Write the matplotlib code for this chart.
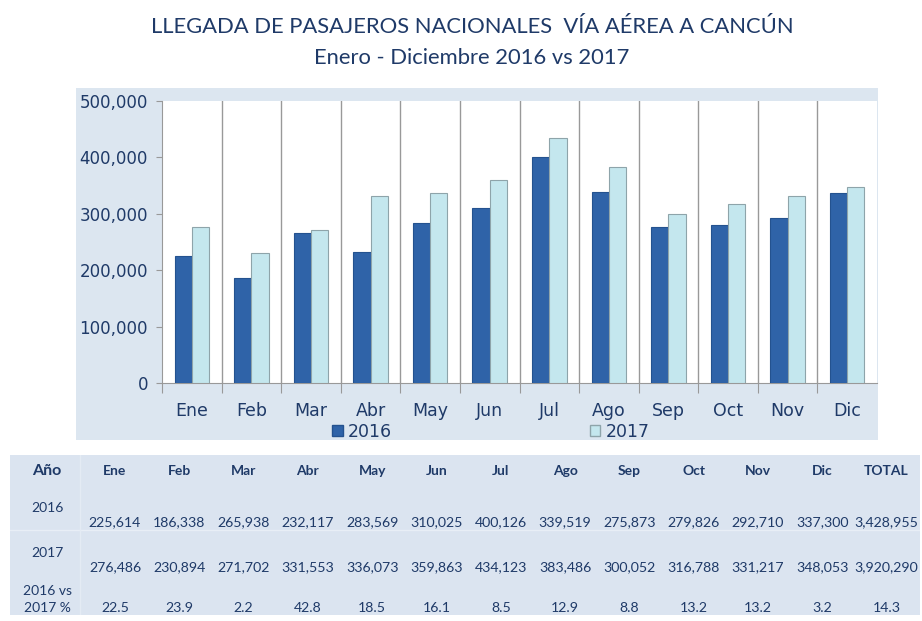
import numpy as np
import matplotlib
matplotlib.use("Agg")
import matplotlib.pyplot as plt
from matplotlib.patches import Rectangle, Patch
from matplotlib.ticker import FuncFormatter, FixedLocator

# -------------------- DATA --------------------
meses = ["Ene", "Feb", "Mar", "Abr", "May", "Jun", "Jul", "Ago", "Sep", "Oct", "Nov", "Dic"]
pax_2016 = [225614, 186338, 265938, 232117, 283569, 310025, 400126, 339519, 275873, 279826, 292710, 337300]
pax_2017 = [276486, 230894, 271702, 331553, 336073, 359863, 434123, 383486, 300052, 316788, 331217, 348053]
total_2016 = "3,428,955"
total_2017 = "3,920,290"
variacion = ["22.5", "23.9", "2.2", "42.8", "18.5", "16.1", "8.5", "12.9", "8.8", "13.2", "13.2", "3.2"]
variacion_total = "14.3"
y_ticks = [0, 100000, 200000, 300000, 400000, 500000]

# -------------------- STYLE --------------------
navy = "#1f3a68"
c2016 = "#2f63a8"
c2017 = "#c4e7ee"
panel = "#dce6f0"

fig = plt.figure(figsize=(9.22, 6.21), dpi=100)
W, H = 922, 621


def fig_box(x0, y0, x1, y1):
    # pixel box (top-left origin) -> figure fraction
    return [x0 / W, 1 - y1 / H, (x1 - x0) / W, (y1 - y0) / H]


# -------------------- TITLE --------------------
fig.text(472 / W, 1 - 27 / H, "LLEGADA DE PASAJEROS NACIONALES  VÍA AÉREA A CANCÚN",
         ha="center", va="center", fontsize=15.8, color=navy, family="Lato")
fig.text(472 / W, 1 - 58 / H, "Enero - Diciembre 2016 vs 2017",
         ha="center", va="center", fontsize=15.8, color=navy, family="Lato")

# -------------------- CHART PANEL --------------------
b = fig_box(76, 88, 878, 440)
fig.patches.append(Rectangle((b[0], b[1]), b[2], b[3], transform=fig.transFigure,
                             facecolor=panel, edgecolor="none", zorder=-10))

ax = fig.add_axes(fig_box(162, 101, 877, 383))
ax.set_facecolor("white")
x = np.arange(len(meses))
w = 0.29
ax.bar(x - w / 2, pax_2016, w, color=c2016, edgecolor="#24528f", linewidth=0.8, zorder=3)
ax.bar(x + w / 2, pax_2017, w, color=c2017, edgecolor="#8ea4aa", linewidth=0.8, zorder=3)

ax.set_xlim(-0.5, len(meses) - 0.5)
ax.set_ylim(0, 500000)
ax.yaxis.set_major_locator(FixedLocator(y_ticks))
ax.yaxis.set_major_formatter(FuncFormatter(lambda v, p: f"{int(v):,}"))

ax.xaxis.set_major_locator(FixedLocator(np.arange(-0.5, len(meses) - 0.5, 1.0)))
ax.xaxis.set_major_formatter(FuncFormatter(lambda v, p: ""))
ax.xaxis.set_minor_locator(FixedLocator(x))
ax.set_xticklabels(meses, minor=True)
ax.tick_params(axis="x", which="minor", length=0, pad=14, labelsize=12.5, labelcolor=navy)
ax.tick_params(axis="x", which="major", length=7, color="#999999", direction="out")
ax.tick_params(axis="y", length=4, color="#999999", labelsize=12, labelcolor=navy, pad=6)

for v in np.arange(0.5, len(meses) - 1, 1.0):
    ax.axvline(v, color="#999999", linewidth=1, zorder=1)

for s in ["top", "right"]:
    ax.spines[s].set_visible(False)
for s in ["left", "bottom"]:
    ax.spines[s].set_color("#999999")

handles = [Patch(facecolor=c2016, edgecolor="#24528f", label="2016"),
           Patch(facecolor=c2017, edgecolor="#8ea4aa", label="2017")]
ax.legend(handles=handles, loc="upper center", bbox_to_anchor=(0.46, -0.085), ncol=2,
          frameon=False, fontsize=12.5, labelcolor=navy, handlelength=0.6, handleheight=0.6,
          handletextpad=0.3, columnspacing=11.4)

# -------------------- TABLE --------------------
tb = fig.add_axes(fig_box(10, 455, 920, 615))
tb.set_xlim(10, 920)
tb.set_ylim(615, 455)
tb.set_facecolor("#dbe4f0")
for s in tb.spines.values():
    s.set_visible(False)
tb.set_xticks([])
tb.set_yticks([])
tb.axhline(530, color="#e8eef6", linewidth=1)
tb.axvline(80, color="#e4ebf4", linewidth=1)

cols = [115 + 64.3 * i for i in range(13)]
tfont = dict(family="Lato", color=navy, ha="center", va="center")

tb.text(47, 471, "Año", fontsize=11.5, weight="bold", **tfont)
for cx, lab in zip(cols, meses + ["TOTAL"]):
    tb.text(cx, 471, lab, fontsize=10, weight="bold", **tfont)

tb.text(47, 508, "2016", fontsize=10, **tfont)
tb.text(47, 553, "2017", fontsize=10, **tfont)
tb.text(47, 591, "2016 vs", fontsize=10, **tfont)
tb.text(47, 608, "2017 %", fontsize=10, **tfont)

for cx, v in zip(cols, [f"{p:,}" for p in pax_2016] + [total_2016]):
    tb.text(cx, 522, v, fontsize=10.2, **tfont)
for cx, v in zip(cols, [f"{p:,}" for p in pax_2017] + [total_2017]):
    tb.text(cx, 567, v, fontsize=10.2, **tfont)
for cx, v in zip(cols, variacion + [variacion_total]):
    tb.text(cx, 608, v, fontsize=10.2, **tfont)

fig.savefig("out.png", dpi=100)
